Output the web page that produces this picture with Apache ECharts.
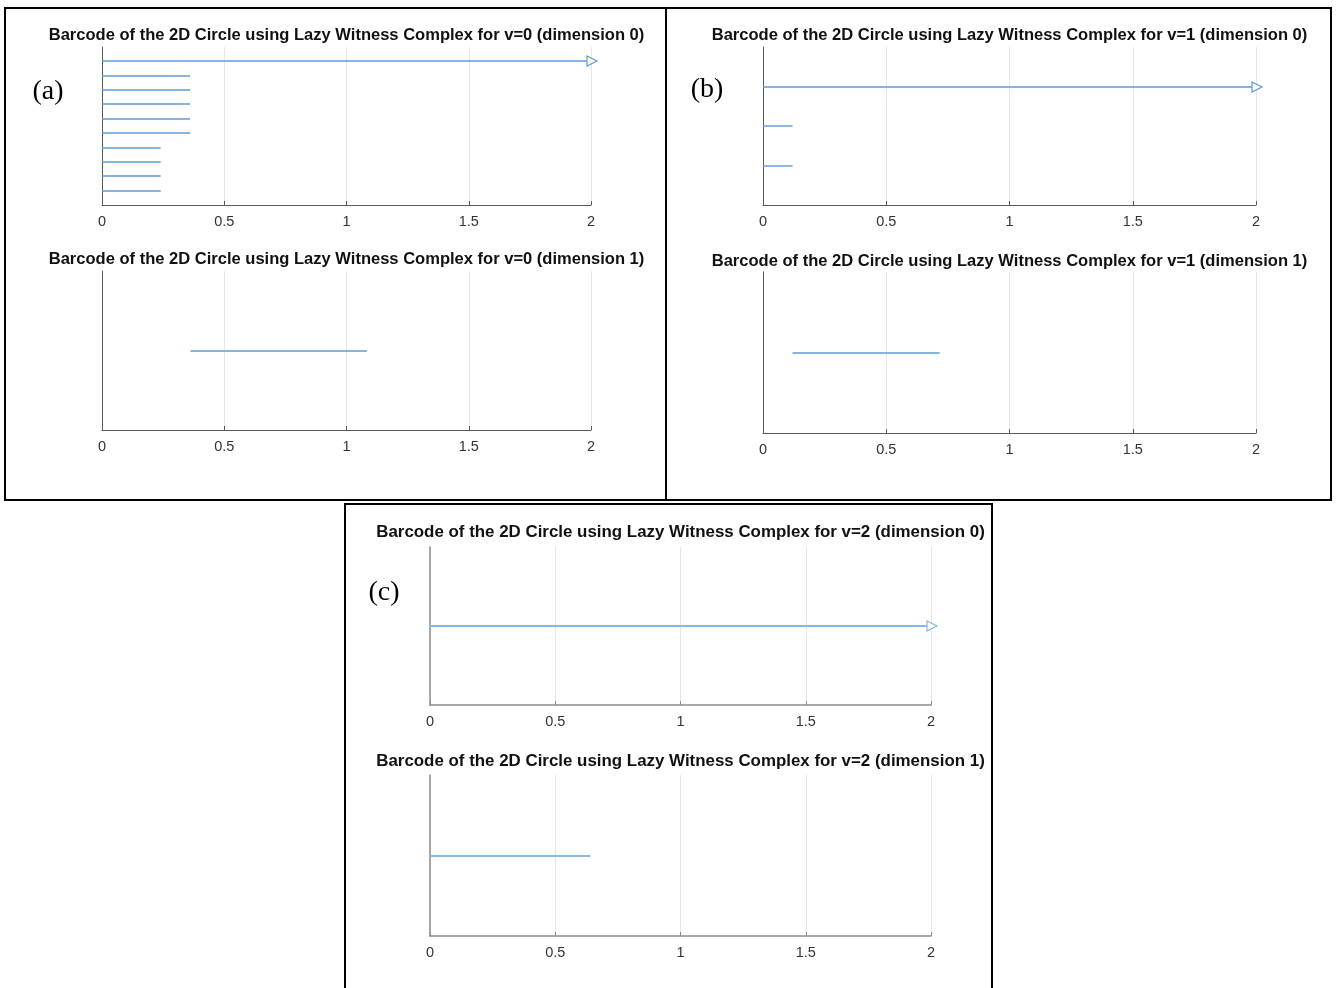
<!DOCTYPE html>
<html>
<head>
<meta charset="utf-8">
<script src="https://cdn.jsdelivr.net/npm/echarts@6/dist/echarts.min.js"></script>
<style>
html,body{margin:0;padding:0;background:#fff;}
#c{width:1341px;height:988px;}
</style>
</head>
<body>
<div id="c"></div>
<script>
// ---- data (null death = infinite bar, drawn with an arrow at the axis end) ----
const xTickLabels = ['0', '0.5', '1', '1.5', '2'];
const xMin = 0, xMax = 2, xStep = 0.5;

const a0Birth = [0, 0, 0, 0, 0, 0, 0, 0, 0, 0];
const a0Death = [null, 0.36, 0.36, 0.36, 0.36, 0.36, 0.24, 0.24, 0.24, 0.24];
const a1Birth = [0.362];
const a1Death = [1.083];
const b0Birth = [0, 0, 0];
const b0Death = [null, 0.12, 0.12];
const b1Birth = [0.12];
const b1Death = [0.717];
const c0Birth = [0];
const c0Death = [null];
const c1Birth = [0];
const c1Death = [0.64];

const titles = [
  'Barcode of the 2D Circle using Lazy Witness Complex for v=0 (dimension 0)',
  'Barcode of the 2D Circle using Lazy Witness Complex for v=0 (dimension 1)',
  'Barcode of the 2D Circle using Lazy Witness Complex for v=1 (dimension 0)',
  'Barcode of the 2D Circle using Lazy Witness Complex for v=1 (dimension 1)',
  'Barcode of the 2D Circle using Lazy Witness Complex for v=2 (dimension 0)',
  'Barcode of the 2D Circle using Lazy Witness Complex for v=2 (dimension 1)'
];
const panelLabels = ['(a)', '(b)', '(c)'];

// ---- layout ----
const plots = [
  {birth: a0Birth, death: a0Death, grid: {left: 102, top: 47, width: 489, height: 158}, titleY: 35, bar: '#5b9bd5', lw: 1.4, axis: '#5a5a5a', alw: 1, fs: 16.55},
  {birth: a1Birth, death: a1Death, grid: {left: 102, top: 271, width: 489, height: 159}, titleY: 259, bar: '#5b9bd5', lw: 1.4, axis: '#5a5a5a', alw: 1, fs: 16.55},
  {birth: b0Birth, death: b0Death, grid: {left: 763, top: 47, width: 493, height: 158}, titleY: 35, bar: '#5b9bd5', lw: 1.4, axis: '#5a5a5a', alw: 1, fs: 16.55},
  {birth: b1Birth, death: b1Death, grid: {left: 763, top: 272, width: 493, height: 161}, titleY: 261, bar: '#5b9bd5', lw: 1.4, axis: '#5a5a5a', alw: 1, fs: 16.55},
  {birth: c0Birth, death: c0Death, grid: {left: 430, top: 547, width: 501, height: 158}, titleY: 532, bar: '#86b8e4', lw: 2, axis: '#8c8c8c', alw: 1.5, fs: 16.9},
  {birth: c1Birth, death: c1Death, grid: {left: 430, top: 775, width: 501, height: 161}, titleY: 761, bar: '#86b8e4', lw: 2, axis: '#8c8c8c', alw: 1.5, fs: 16.9}
];

const grids = [], xAxes = [], yAxes = [], series = [], graphics = [];

plots.forEach((p, i) => {
  const n = p.birth.length;
  grids.push(Object.assign({containLabel: false}, p.grid));
  xAxes.push({
    type: 'value', gridIndex: i, min: xMin, max: xMax, interval: xStep,
    axisLine: {show: true, onZero: false, lineStyle: {color: p.axis, width: p.alw}},
    axisTick: {show: true, inside: true, length: 4, lineStyle: {color: p.axis}},
    axisLabel: {
      show: true, margin: 9, color: '#333', fontSize: 14.5, fontFamily: 'Liberation Sans, Arial, sans-serif',
      formatter: v => xTickLabels[Math.round((v - xMin) / xStep)]
    },
    splitLine: {show: true, lineStyle: {color: '#e6e6e6', width: 1}}
  });
  yAxes.push({
    type: 'value', gridIndex: i, min: 0, max: n + 1,
    axisLine: {show: true, onZero: false, lineStyle: {color: p.axis, width: p.alw}},
    axisTick: {show: false}, axisLabel: {show: false}, splitLine: {show: false}
  });
  const data = p.birth.map((b, k) => {
    const inf = p.death[k] === null;
    return [b, inf ? xMax : p.death[k], n - k, inf ? 1 : 0];
  });
  const color = p.bar, lw = p.lw;
  series.push({
    type: 'custom', xAxisIndex: i, yAxisIndex: i, data: data, clip: false, silent: true,
    renderItem: (params, api) => {
      const y = api.value(2);
      const s = api.coord([api.value(0), y]);
      const e = api.coord([api.value(1), y]);
      const inf = api.value(3) === 1;
      const yy = Math.round(s[1]);
      const children = [{
        type: 'line',
        shape: {x1: s[0], y1: yy, x2: inf ? e[0] - 4 : e[0], y2: yy},
        style: {stroke: color, lineWidth: lw}
      }];
      if (inf) {
        children.push({
          type: 'polygon',
          shape: {points: [[e[0] - 4, yy - 5], [e[0] + 6, yy], [e[0] - 4, yy + 5]]},
          style: {fill: '#fff', stroke: color, lineWidth: 1.2}
        });
      }
      return {type: 'group', children: children};
    }
  });
  graphics.push({
    type: 'text', x: p.grid.left + p.grid.width / 2, y: p.titleY,
    style: {text: titles[i], fill: '#111', font: 'bold ' + p.fs + 'px "Liberation Sans", Arial, sans-serif', align: 'center', verticalAlign: 'middle'}
  });
});

// panel frames
const frames = [
  {x: 5, y: 8, w: 661, h: 492},
  {x: 666, y: 8, w: 665, h: 492},
  {x: 345, y: 504, w: 647, h: 490}
];
frames.forEach(f => graphics.push({
  type: 'rect', shape: {x: f.x, y: f.y, width: f.w, height: f.h},
  style: {fill: 'none', stroke: '#000', lineWidth: 2}, z: -1
}));
const labelPos = [[48, 92], [707, 90], [384, 593]];
panelLabels.forEach((t, i) => graphics.push({
  type: 'text', x: labelPos[i][0], y: labelPos[i][1],
  style: {text: t, fill: '#000', font: '28px "Liberation Serif", "DejaVu Serif", serif', align: 'center', verticalAlign: 'middle'}
}));

const chart = echarts.init(document.getElementById('c'), null, {renderer: 'canvas'});
chart.setOption({
  animation: false,
  backgroundColor: '#fff',
  grid: grids, xAxis: xAxes, yAxis: yAxes, series: series, graphic: graphics
});
</script>
</body>
</html>
